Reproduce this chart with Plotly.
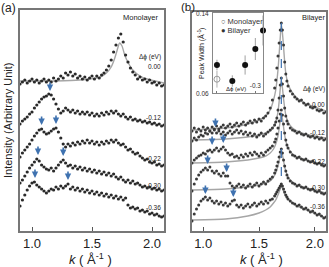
import plotly.graph_objects as go

# ---------------- data ----------------
# k grid (1/Angstrom)
K_A = [0.90,0.92,0.94,0.96,0.98,1.00,1.02,1.04,1.06,1.08,
       1.10,1.12,1.14,1.16,1.18,1.20,1.22,1.24,1.26,1.28,
       1.30,1.32,1.34,1.36,1.38,1.40,1.42,1.44,1.46,1.48,
       1.50,1.52,1.54,1.56,1.58,1.60,1.62,1.64,1.66,1.68,
       1.70,1.72,1.74,1.76,1.78,1.80,1.82,1.84,1.86,1.88,
       1.90,1.92,1.94,1.96,1.98,2.00,2.02,2.04,2.06,2.08,
       2.10]

# Monolayer MDCs (stacked, arbitrary units)
A_000 = [147,149,151,148,150,152,149,151,148,150,
         152,149,151,149,153,150,152,155,153,158,
         156,159,155,157,153,155,152,154,151,153,
         155,152,155,153,156,158,161,165,171,179,
         186,193,197,189,176,169,163,159,156,152,
         154,151,152,149,151,148,149,146,148,145,
         146]
A_012 = [107,110,112,114,117,119,123,126,129,132,
         134,135,137,136,132,127,122,118,120,123,
         121,119,121,118,120,117,119,117,119,116,
         118,115,117,115,118,116,119,117,120,118,
         120,117,115,117,114,112,114,111,112,110,
         111,109,110,108,109,107,108,106,107,105,
         106]
A_022 = [74,78,81,84,87,91,95,98,101,102,
         99,97,98,100,102,103,99,93,87,84,
         87,85,88,86,89,87,90,88,91,88,
         90,87,89,86,89,87,90,88,91,89,
         91,88,86,87,84,81,82,79,77,78,
         75,73,71,72,69,68,69,66,67,65,
         66]
A_030 = [48,51,55,59,63,66,69,72,70,66,
         64,62,61,63,60,63,66,69,71,68,
         65,66,63,65,62,64,61,63,60,62,
         59,61,58,60,57,59,56,58,55,57,
         54,52,54,51,49,51,48,50,47,48,
         46,44,45,43,44,42,43,41,42,40,
         41]
A_036 = [25,31,36,41,45,48,49,46,44,42,
         40,38,40,42,41,44,42,45,43,45,
         47,42,44,41,43,40,42,39,41,38,
         40,37,39,36,38,35,37,34,36,33,
         35,32,34,31,33,26,23,24,22,23,
         20,21,19,20,17,18,16,17,15,14,
         15]
# fit of the 0.00 monolayer curve
FIT_A_K = [0.90,1.20,1.40,1.57,1.62,1.66,1.69,1.71,1.73,1.75,1.77,1.79,1.84,1.90,1.96,2.10]
FIT_A_000 = [150,150,151,154,158,164,173,181,188,185,177,171,161,155,152,148]

# Bilayer MDCs
K_B = [0.90,0.92,0.94,0.96,0.98,1.00,1.02,1.04,1.06,1.08,
       1.10,1.12,1.14,1.16,1.18,1.20,1.22,1.24,1.26,1.28,
       1.30,1.32,1.34,1.36,1.38,1.40,1.42,1.44,1.46,1.48,
       1.50,1.52,1.54,1.56,1.58,1.60,
       1.62,1.64,1.65,1.66,1.67,1.68,1.69,1.70,1.71,1.72,
       1.73,1.74,1.75,1.76,1.78,1.80,
       1.82,1.84,1.86,1.88,1.90,1.92,1.94,1.96,1.98,2.00,
       2.02,2.04,2.06,2.08,2.10]
B_000 = [100,103,99,102,100,104,101,103,100,104,
         102,105,102,104,106,103,105,107,104,106,
         108,105,107,109,106,108,110,108,111,109,
         112,110,113,115,118,123,
         131,143,151,163,175,188,201,208,201,186,
         169,157,150,145,140,137,
         134,132,130,131,128,126,127,124,123,124,
         121,120,121,118,119]
B_012 = [90,93,91,94,96,95,98,97,100,98,
         101,98,100,97,99,96,98,100,97,99,
         101,98,100,97,99,96,98,95,97,94,
         96,98,95,97,99,101,
         103,106,109,113,121,133,146,153,147,135,
         123,115,110,107,103,101,
         100,98,99,97,96,97,95,94,95,93,
         94,92,93,91,92]
B_022 = [68,71,73,75,76,78,77,80,81,79,
         81,83,80,82,84,81,78,76,77,74,
         75,73,76,74,77,75,78,76,79,77,
         75,78,76,79,81,83,
         85,89,92,97,103,110,117,121,116,107,
         98,91,86,83,79,76,
         75,73,74,72,71,72,70,69,70,68,
         67,68,66,65,66]
B_030 = [40,47,52,56,59,61,63,61,64,60,
         58,60,57,55,58,55,55,48,45,43,
         45,47,44,46,43,45,47,44,46,48,
         45,47,49,47,50,52,
         54,58,61,65,69,74,79,82,78,71,
         65,60,56,53,50,48,
         47,45,46,44,43,44,42,41,42,40,
         39,40,38,37,38]
B_036 = [10,17,22,26,30,32,34,31,33,30,
         28,30,27,29,26,28,25,27,30,31,
         26,24,26,23,25,27,24,26,28,25,
         27,29,27,30,28,31,
         32,35,37,39,41,43,45,47,45,42,
         39,36,34,32,30,28,
         27,25,26,24,22,23,21,19,20,18,
         16,17,15,13,14]
# Lorentzian fits of bilayer curves
FIT_B_K = [0.90,1.20,1.40,1.50,1.56,1.60,1.63,1.65,1.67,1.68,1.69,1.70,1.71,1.72,1.73,1.74,1.76,1.80,1.86,1.95,2.10]
FIT_B_000 = [101,103,107,111,115,121,131,141,161,176,193,207,198,184,169,158,147,138,131,126,120]
FIT_B_012 = [91,92,94,96,98,100,104,109,119,129,142,151,143,132,123,116,109,103,99,96,93]
FIT_B_022 = [68,69,71,73,75,78,82,87,95,102,111,118,112,104,96,90,83,77,73,70,66]
FIT_B_030 = [41,42,44,46,48,50,54,58,65,70,76,81,76,70,64,60,54,49,45,42,38]
FIT_B_036 = [11,12,15,18,21,24,28,31,36,39,42,45,43,40,37,35,32,28,24,20,13]
PEAK_K = 1.70

# curve labels (delta phi, eV)
LABELS = ["0.00", "-0.12", "-0.22", "-0.30", "-0.36"]

# arrows marking the extra features: (k, height)
ARROW_A_K = [1.15, 1.08, 1.20, 1.05, 1.26, 1.025, 1.30]
ARROW_A_V = [140, 106, 107, 76, 75, 53, 51]
ARROW_B_K = [1.11, 1.08, 1.18, 1.04, 1.21, 1.02, 1.27]
ARROW_B_V = [104, 86, 88, 67, 59, 37, 34]

# inset: peak width vs delta phi
DPHI_BI = [0.0, -0.12, -0.22, -0.30, -0.36]
WIDTH_BI = [0.088, 0.072, 0.088, 0.104, 0.1225]
ERR_BI = [0.0053, 0.0057, 0.0096, 0.011, 0.015]
DPHI_MONO = [0.0]
WIDTH_MONO = [0.0738]
ERR_MONO = [0.0084]
INSET_YTICKS = [0.06, 0.14]

# ---------------- figure ----------------
W, H = 329, 267
def X(p): return p / W
def Y(p): return 1 - p / H

FONT = "Liberation Sans, Arial, sans-serif"
DOT = "#2a2a2a"
DOTB = "#3a3a3a"
FITC = "#a6a6a6"
BLUE = "#3f72b0"
AX = "#777777"

fig = go.Figure()

# panel (a)
fig.add_trace(go.Scatter(x=FIT_A_K, y=FIT_A_000, mode="lines",
                         line=dict(color=FITC, width=1.4, shape="spline", smoothing=0.6),
                         xaxis="x", yaxis="y", showlegend=False, hoverinfo="skip"))
for ys in [A_000, A_012, A_022, A_030, A_036]:
    fig.add_trace(go.Scatter(x=K_A, y=ys, mode="markers",
                             marker=dict(size=3.2, color=DOT),
                             xaxis="x", yaxis="y", showlegend=False))

# panel (b)
for ys in [FIT_B_000, FIT_B_012, FIT_B_022, FIT_B_030, FIT_B_036]:
    fig.add_trace(go.Scatter(x=FIT_B_K, y=ys, mode="lines",
                             line=dict(color=FITC, width=1.4, shape="spline", smoothing=0.5),
                             xaxis="x2", yaxis="y2", showlegend=False, hoverinfo="skip"))
for ys in [B_000, B_012, B_022, B_030, B_036]:
    fig.add_trace(go.Scatter(x=K_B, y=ys, mode="markers",
                             marker=dict(size=3.0, color=DOTB),
                             xaxis="x2", yaxis="y2", showlegend=False))
ip = K_B.index(PEAK_K)
fig.add_trace(go.Scatter(x=[PEAK_K, PEAK_K], y=[B_000[ip], B_036[ip]], mode="lines",
                         line=dict(color=BLUE, width=1.2, dash="dash"),
                         xaxis="x2", yaxis="y2", showlegend=False))

# inset
fig.add_trace(go.Scatter(x=DPHI_MONO, y=WIDTH_MONO, mode="markers",
                         marker=dict(symbol="circle-open", size=6, color="#9a9a9a", line=dict(width=1)),
                         error_y=dict(type="data", array=ERR_MONO, color="#b0b0b0", thickness=1, width=0),
                         xaxis="x3", yaxis="y3", showlegend=False, cliponaxis=False))
fig.add_trace(go.Scatter(x=DPHI_BI, y=WIDTH_BI, mode="markers",
                         marker=dict(size=6, color="#111111"),
                         error_y=dict(type="data", array=ERR_BI, color="#a0a0a0", thickness=1, width=0),
                         xaxis="x3", yaxis="y3", showlegend=False, cliponaxis=False))

main_x = dict(range=[0.9, 2.1], tickvals=[1.0, 1.5, 2.0], ticktext=["1.0", "1.5", "2.0"],
              ticks="inside", ticklen=4, tickwidth=1, tickcolor="#555",
              showline=True, linecolor=AX, linewidth=1.5, mirror=True,
              showgrid=False, zeroline=False, tickfont=dict(size=13, color="#222"))
main_y = dict(showticklabels=False, ticks="", showline=True, linecolor=AX, linewidth=1.5,
              mirror=True, showgrid=False, zeroline=False)

fig.update_layout(
    width=W, height=H, margin=dict(l=0, r=0, t=0, b=0),
    paper_bgcolor="white", plot_bgcolor="white",
    font=dict(family=FONT, color="#222"),
    xaxis=dict(main_x, domain=[X(20), X(164)], anchor="y"),
    yaxis=dict(main_y, domain=[Y(231), Y(10)], range=[0, 221], anchor="x"),
    xaxis2=dict(main_x, domain=[X(192), X(326)], anchor="y2"),
    yaxis2=dict(main_y, domain=[Y(231), Y(12)], range=[0, 219], anchor="x2"),
    xaxis3=dict(domain=[X(213), X(263)], anchor="y3", range=[0.031, -0.36],
                tickvals=[0.0, -0.3], ticktext=["0.0", "-0.3"], ticklabelposition="inside",
                ticks="inside", ticklen=2, tickcolor="#777", showline=True, linecolor="#888",
                linewidth=1, mirror=True, showgrid=False, zeroline=False,
                tickfont=dict(size=6.5, color="#333")),
    yaxis3=dict(domain=[Y(93), Y(13)], anchor="x3", range=[0.06, 0.14],
                tickvals=INSET_YTICKS, showticklabels=False,
                ticks="inside", ticklen=2, tickcolor="#777", showline=True, linecolor="#888",
                linewidth=1, mirror=True, showgrid=False, zeroline=False),
)

ann = []
def text(px, py, s, size, xanchor="center", angle=0, color="#222"):
    ann.append(dict(x=X(px), y=Y(py), xref="paper", yref="paper", text=s, showarrow=False,
                    xanchor=xanchor, yanchor="middle", textangle=angle,
                    font=dict(size=size, color=color, family=FONT)))

text(8, 8, "(a)", 12)
text(188, 7, "(b)", 11.5)
text(161, 18, "Monolayer", 7.5, "right")
text(327, 18, "Bilayer", 7.5, "right")
text(8, 120, "Intensity (Arbitrary Unit)", 11, angle=-90)
text(90, 259, "<i>k</i> ( Å<sup>-1</sup> )", 13)
text(261, 259, "<i>k</i> ( Å<sup>-1</sup> )", 13)
# curve labels
text(163, 57, "Δϕ (eV)", 6.5, "right")
text(327, 89, "Δϕ (eV)", 6.5, "right")
for s, yy in zip(LABELS, [67, 118, 158, 185, 207]):
    text(163, yy, s, 6.5, "right")
for s, yy in zip(LABELS, [104, 132, 161, 187, 206]):
    text(327, yy, s, 6.5, "right")
# inset texts
text(201, 53, "Peak Width (Å<sup>-1</sup>)", 7, angle=-90)
text(236, 89, "Δϕ (eV)", 6)
text(219, 22, "○ Monolayer", 7.5, "left", color="#333")
text(219, 30, "● Bilayer", 7.5, "left", color="#333")
for tv in INSET_YTICKS:
    ann.append(dict(x=X(211), y=tv, xref="paper", yref="y3", text=f"{tv:.2f}", showarrow=False,
                    xanchor="right", yanchor="middle", font=dict(size=6.5, color="#333", family=FONT)))

# arrows
for k, v in zip(ARROW_A_K, ARROW_A_V):
    ann.append(dict(x=k, y=v, xref="x", yref="y", ax=0, ay=-10, showarrow=True, text="",
                    arrowhead=2, arrowsize=0.8, arrowwidth=1.6, arrowcolor=BLUE))
for k, v in zip(ARROW_B_K, ARROW_B_V):
    ann.append(dict(x=k, y=v, xref="x2", yref="y2", ax=0, ay=-10, showarrow=True, text="",
                    arrowhead=2, arrowsize=0.8, arrowwidth=1.6, arrowcolor=BLUE))

fig.update_layout(annotations=ann)
fig.write_html("out.html", config={"displayModeBar": False})

# remove the default page margin so the figure sits at the window's top-left corner
with open("out.html", encoding="utf-8") as f:
    html = f.read()
html = html.replace("<head>", "<head><style>html,body{margin:0;padding:0;}</style>", 1)
with open("out.html", "w", encoding="utf-8") as f:
    f.write(html)
